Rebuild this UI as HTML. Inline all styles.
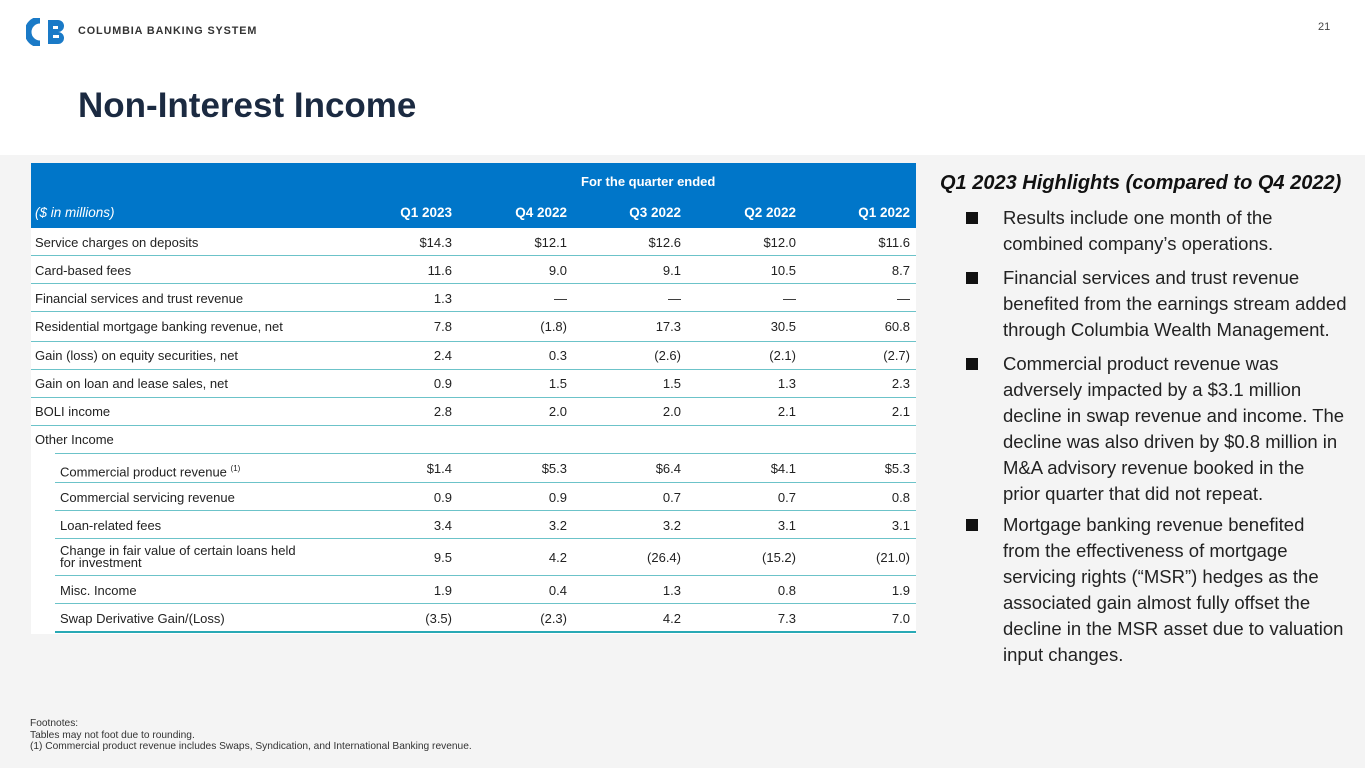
<!DOCTYPE html>
<html><head><meta charset="utf-8"><style>
*{margin:0;padding:0;box-sizing:border-box}
body{width:1365px;height:768px;overflow:hidden;background:#fff;font-family:"Liberation Sans",sans-serif;position:relative;color:#222}
.abs{position:absolute;white-space:nowrap}
#panel{position:absolute;left:0;top:155px;width:1365px;height:613px;background:#f4f4f4}
#tbl{position:absolute;left:31px;top:163px;width:885px;height:471px;background:#fff}
#hdr{position:absolute;left:0;top:0;width:885px;height:65px;background:#0076c9;color:#fff}
.row{position:absolute;left:0;width:885px;font-size:13px;color:#222}
.line{position:absolute;right:0;height:1px;background:#6cc3c9}
.cell{position:absolute;text-align:right;width:100px}
.hl{position:absolute;left:1003px;font-size:18.5px;line-height:26px;color:#222;white-space:nowrap}
.sq{position:absolute;left:966px;width:12px;height:12px;background:#111}
</style></head><body>
<div class="abs" style="left:26px;top:18px;width:42px;height:28px">
<svg width="42" height="28" viewBox="0 0 42 28"><path d="M14 2 A12 12 0 1 0 14 26" stroke="#1a7ac7" stroke-width="7" fill="none"/><path d="M22 2 H32 A6 6 0 0 1 32 14 A6 6 0 0 1 32 26 H22 Z" fill="#1a7ac7"/><rect x="27" y="8" width="5" height="3" fill="#fff"/><rect x="27" y="17" width="6" height="3" fill="#fff"/></svg></div>
<div class="abs" style="left:78px;top:25px;font-size:10.8px;font-weight:bold;letter-spacing:0.9px;color:#333">COLUMBIA BANKING SYSTEM</div>
<div class="abs" style="left:1318px;top:21px;font-size:11px;color:#444">21</div>
<div class="abs" style="left:78px;top:86px;font-size:35px;font-weight:bold;color:#1b2a41">Non-Interest Income</div>
<div id="panel"></div>
<div id="tbl">
<div id="hdr">
<div class="abs" style="left:550px;top:11px;font-size:13px;font-weight:bold">For the quarter ended</div>
<div class="abs" style="left:4px;top:42px;font-size:13.5px;font-style:italic">($ in millions)</div>
</div>
</div>
<div class="abs" style="left:940px;top:172px;font-size:20px;font-weight:bold;font-style:italic;color:#111">Q1 2023 Highlights (compared to Q4 2022)</div>
<div class="sq" style="top:212px"></div>
<div class="hl" style="top:205px">Results include one month of the<br>combined company’s operations.</div>
<div class="sq" style="top:272px"></div>
<div class="hl" style="top:265px">Financial services and trust revenue<br>benefited from the earnings stream added<br>through Columbia Wealth Management.</div>
<div class="sq" style="top:358px"></div>
<div class="hl" style="top:351px">Commercial product revenue was<br>adversely impacted by a $3.1 million<br>decline in swap revenue and income. The<br>decline was also driven by $0.8 million in<br>M&amp;A advisory revenue booked in the<br>prior quarter that did not repeat.</div>
<div class="sq" style="top:519px"></div>
<div class="hl" style="top:512px">Mortgage banking revenue benefited<br>from the effectiveness of mortgage<br>servicing rights (“MSR”) hedges as the<br>associated gain almost fully offset the<br>decline in the MSR asset due to valuation<br>input changes.</div>
<div class="abs" style="left:30px;top:718px;font-size:10.2px;line-height:11.5px;color:#333">Footnotes:<br>Tables may not foot due to rounding.<br>(1) Commercial product revenue includes Swaps, Syndication, and International Banking revenue.</div>
<script>
const quarters=["Q1 2023","Q4 2022","Q3 2022","Q2 2022","Q1 2022"];
const labels=["Service charges on deposits","Card-based fees","Financial services and trust revenue","Residential mortgage banking revenue, net","Gain (loss) on equity securities, net","Gain on loan and lease sales, net","BOLI income","Other Income","Commercial product revenue <sup style='font-size:8px'>(1)</sup>","Commercial servicing revenue","Loan-related fees","Change in fair value of certain loans held<br>for investment","Misc. Income","Swap Derivative Gain/(Loss)"];
const indent=[0,0,0,0,0,0,0,0,1,1,1,1,1,1];
const values=[["$14.3","$12.1","$12.6","$12.0","$11.6"],["11.6","9.0","9.1","10.5","8.7"],["1.3","—","—","—","—"],["7.8","(1.8)","17.3","30.5","60.8"],["2.4","0.3","(2.6)","(2.1)","(2.7)"],["0.9","1.5","1.5","1.3","2.3"],["2.8","2.0","2.0","2.1","2.1"],["","","","",""],["$1.4","$5.3","$6.4","$4.1","$5.3"],["0.9","0.9","0.7","0.7","0.8"],["3.4","3.2","3.2","3.1","3.1"],["9.5","4.2","(26.4)","(15.2)","(21.0)"],["1.9","0.4","1.3","0.8","1.9"],["(3.5)","(2.3)","4.2","7.3","7.0"]];
const tbl=document.getElementById('tbl'),hdr=document.getElementById('hdr');
const colR=[421,536,650,765,879];
quarters.forEach((q,i)=>{const d=document.createElement('div');d.className='cell';d.style.left=(colR[i]-100)+'px';d.style.top='42px';d.style.fontWeight='bold';d.style.fontSize='13.5px';d.textContent=q;


hdr.appendChild(d);});
let y=65;
labels.forEach((lab,r)=>{const h=r==11?37:(r==3||r==8?29.5:28);const row=document.createElement('div');row.className='row';row.style.top=y+'px';row.style.height=h+'px';


const l=document.createElement('div');l.className='abs';l.style.left=(indent[r]?29:4)+'px';l.style.top=(r==11?6:(h-15)/2)+'px';l.style.lineHeight=r==11?'12px':'15px';l.innerHTML=lab;


row.appendChild(l);
values[r].forEach((v,i)=>{const c=document.createElement('div');c.className='cell';c.style.left=(colR[i]-100)+'px';c.style.top=((h-15)/2)+'px';c.style.lineHeight='15px';c.textContent=v;


row.appendChild(c);});
const ln=document.createElement('div');ln.className='line';ln.style.top=(h-1)+'px';ln.style.left=(indent[r]||indent[r+1]?24:0)+'px';if(r==13){ln.style.height='2px';ln.style.left='24px';ln.style.background='#29a9b5';}


row.appendChild(ln);
tbl.appendChild(row);y+=h;});
</script>
</body></html>
